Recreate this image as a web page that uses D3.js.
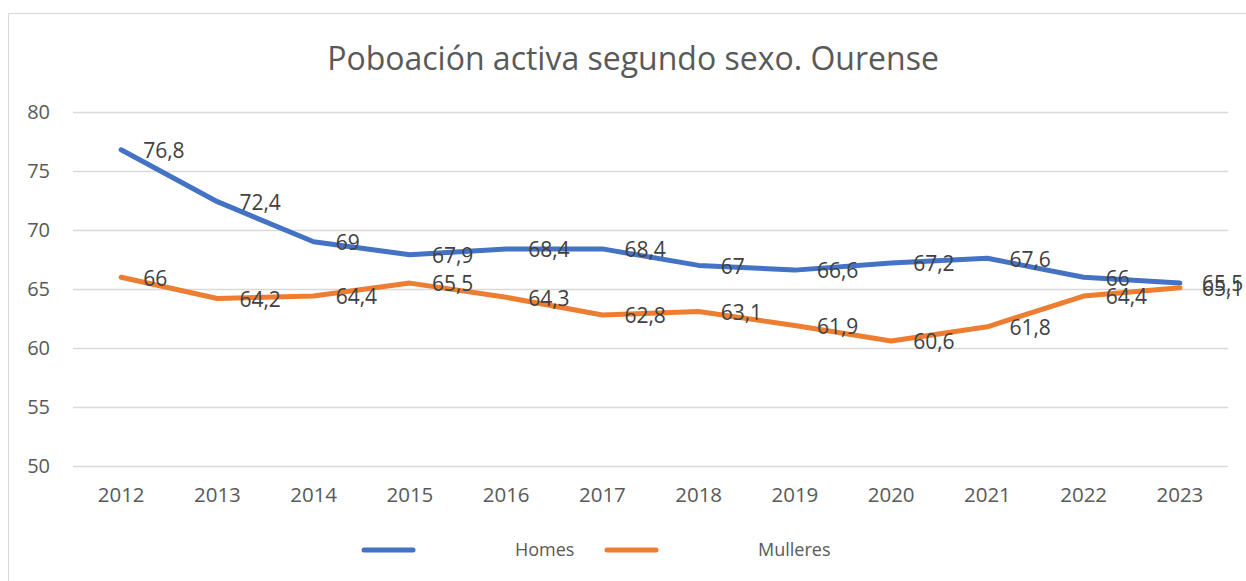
<!DOCTYPE html>
<html><head><meta charset="utf-8">
<script src="https://cdn.jsdelivr.net/npm/d3@7"></script>
<style>body{margin:0;background:#fff;} svg{display:block;} text{font-family:"Open Sans",sans-serif;}</style>
</head><body>
<svg id="c" width="1246" height="581"></svg>
<script>
const years = ["2012","2013","2014","2015","2016","2017","2018","2019","2020","2021","2022","2023"];
const homes = [76.8,72.4,69,67.9,68.4,68.4,67,66.6,67.2,67.6,66,65.5];
const mulleres = [66,64.2,64.4,65.5,64.3,62.8,63.1,61.9,60.6,61.8,64.4,65.1];
const yTicks = [50,55,60,65,70,75,80];
const seriesNames = ["Homes","Mulleres"];
const colors = ["#4472C4","#ED7D31"];
const title = "Poboación activa segundo sexo. Ourense";

const svg = d3.select("#c");
svg.append("rect").attr("x",8.5).attr("y",13.5).attr("width",1260).attr("height",600)
  .attr("fill","#fff").attr("stroke","#d9d9d9").attr("stroke-width",1);

const x = d3.scaleBand().domain(years).range([73,1228]);
const y = d3.scaleLinear().domain([50,80]).range([466,112]);

svg.append("text").attr("x",633).attr("y",70).attr("text-anchor","middle")
  .attr("font-size",32).attr("fill","#595959").text(title);

const yAxis = svg.append("g").attr("transform","translate(73,0)")
  .call(d3.axisLeft(y).tickValues(yTicks).tickSize(-(1228-73)).tickFormat(d3.format("d")));
yAxis.select(".domain").remove();
yAxis.selectAll("line").attr("stroke","#d9d9d9").attr("stroke-width",1.3);
yAxis.selectAll("text").attr("x",-23).attr("font-size",20).attr("fill","#595959").attr("font-family","Open Sans");

const xAxis = svg.append("g").attr("transform","translate(0,466)")
  .call(d3.axisBottom(x).tickSize(0).tickPadding(21));
xAxis.select(".domain").remove();
xAxis.selectAll("text").attr("font-size",20.5).attr("fill","#595959").attr("font-family","Open Sans");

const series = [homes, mulleres];
const line = d3.line().x((d,i)=>x(years[i])+x.bandwidth()/2).y(d=>y(d));
series.forEach((s,k)=>{
  svg.append("path").datum(s).attr("d",line).attr("fill","none")
    .attr("stroke",colors[k]).attr("stroke-width",5).attr("stroke-linejoin","round").attr("stroke-linecap","round");
});
const fmt = v => String(v).replace(".",",");
series.forEach((s,k)=>{
  svg.append("g").selectAll("text").data(s).join("text")
    .attr("x",(d,i)=>x(years[i])+x.bandwidth()/2+22)
    .attr("y",d=>y(d)+1).attr("dy","0.35em")
    .attr("font-size",21).attr("fill","#404040").text(fmt);
});

const leg = [{x1:364,x2:413,tx:515},{x1:607,x2:656,tx:758}];
leg.forEach((l,k)=>{
  svg.append("line").attr("x1",l.x1).attr("x2",l.x2).attr("y1",550).attr("y2",550)
    .attr("stroke",colors[k]).attr("stroke-width",5).attr("stroke-linecap","round");
  svg.append("text").attr("x",l.tx).attr("y",550).attr("dy","0.35em").attr("font-size",18)
    .attr("fill","#595959").text(seriesNames[k]);
});
</script>
</body></html>
